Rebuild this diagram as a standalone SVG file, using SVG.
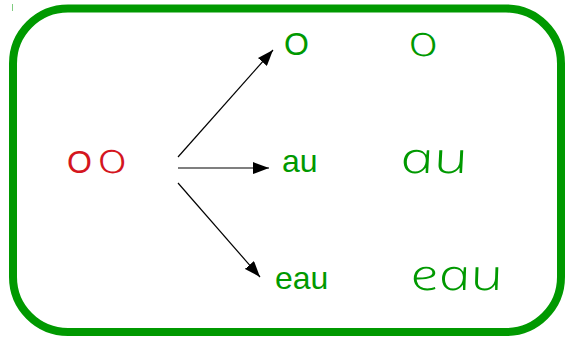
<svg xmlns="http://www.w3.org/2000/svg" width="565" height="340" viewBox="0 0 565 340">
<defs>
<style>
.pr{font-family:"Liberation Sans",Arial,sans-serif;font-size:32px;}
.red{fill:#d4161e;}
.grn{fill:#009900;}
.cur{font-family:"Open Sans","Noto Sans",sans-serif;font-style:italic;font-weight:300;font-size:43px;}
.ar{stroke:#000;stroke-width:1.2;fill:none;marker-end:url(#ah);}
</style>
<marker id="ah" viewBox="0 0 16 12" refX="16" refY="6" markerWidth="16" markerHeight="12" markerUnits="userSpaceOnUse" orient="auto">
<path d="M0,0 L16,6 L0,12 z" fill="#000"/>
</marker>
</defs>
<rect width="565" height="340" fill="#fff"/>
<line x1="12.5" y1="4" x2="12.5" y2="11" stroke="#80cc80" stroke-width="1"/>
<g id="frame">
<rect x="13" y="8.5" width="548" height="323.5" rx="55" ry="55" fill="none" stroke="#009900" stroke-width="8"/>
</g>
<g id="source">
<text class="pr red" x="67" y="173">O</text>
<text class="cur red" transform="translate(100,173) skewX(14)" x="0" y="0" textLength="30" lengthAdjust="spacingAndGlyphs">o</text>
</g>
<g id="o">
<text class="pr grn" x="284" y="55">O</text>
<text class="cur grn" transform="translate(411,56) skewX(14)" x="0" y="0" textLength="30" lengthAdjust="spacingAndGlyphs">o</text>
</g>
<g id="au">
<text class="pr grn" x="282" y="172">au</text>
<text class="cur grn" transform="translate(403,173) skewX(14)" x="0" y="0" textLength="68" lengthAdjust="spacingAndGlyphs">au</text>
</g>
<g id="eau">
<text class="pr grn" x="275" y="289">eau</text>
<text class="cur grn" transform="translate(413,290) skewX(14)" x="0" y="0" font-size="47" textLength="93" lengthAdjust="spacingAndGlyphs">eau</text>
</g>
<g id="connectors">
<line class="ar" x1="178" y1="157" x2="273" y2="50"/>
<line class="ar" x1="178" y1="168" x2="269" y2="168"/>
<line class="ar" x1="178" y1="183" x2="260" y2="277"/>
</g>
</svg>
